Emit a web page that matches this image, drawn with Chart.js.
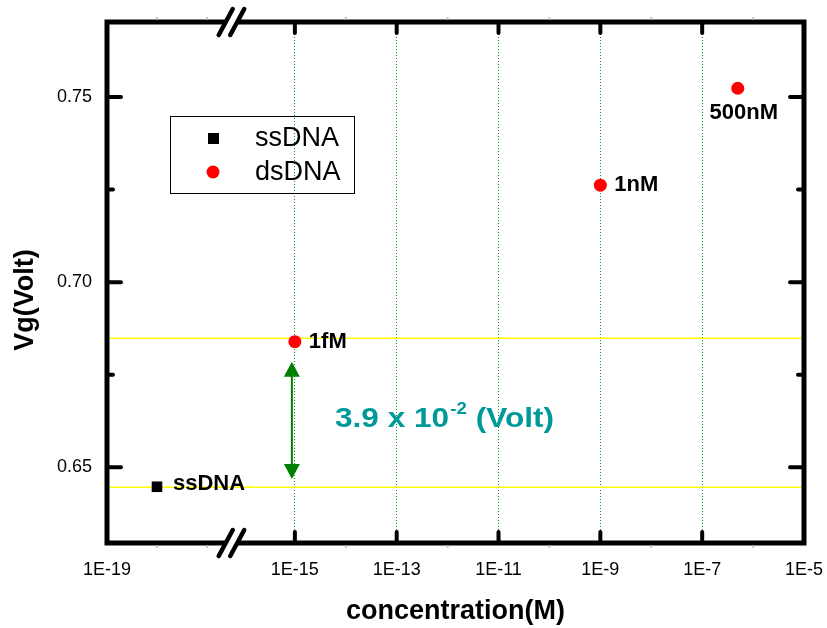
<!DOCTYPE html>
<html>
<head>
<meta charset="utf-8">
<script src="https://cdn.jsdelivr.net/npm/chart.js@4.4.1/dist/chart.umd.min.js"></script>
<style>
  html, body { margin: 0; padding: 0; background: #fff; }
  canvas { display: block; }
</style>
</head>
<body>
<canvas id="vgChart" width="827" height="628"></canvas>
<script>
// values
const ssConc = [1e-18];
const ssVg = [0.6447];
const ssLabels = ['ssDNA'];

const dsConc = [1e-15, 1e-9, 5e-7];
const dsVg = [0.6839, 0.7262, 0.7524];
const dsLabels = ['1fM', '1nM', '500nM'];

const xTickConc = [1e-19, 1e-15, 1e-13, 1e-11, 1e-9, 1e-7, 1e-5];
const xMinorConc = [1e-18, 1e-17, 1e-14, 1e-12, 1e-10, 1e-8, 1e-6];
const yTicks = [0.65, 0.70, 0.75];
const yMinor = [0.675, 0.725];

const baseLevels = [0.6848, 0.6446];   // yellow lines: 1fM dsDNA and ssDNA
const shiftEnds = [0.6785, 0.6468];    // green arrow tips
const shiftText = ['3.9 x 10', '-2', ' (Volt)'];

// broken x axis: the 1E-19 .. 1E-17 piece is squeezed in front of the main piece
const X_MIN = -18.69, X_MAX = -5;
const LEFT_SCALE = 0.982;
const BREAK_EXP = -16.5;
const BREAK_AXIS = -16.25;
function xPos(c) {
  const e = Math.log10(c);
  return e < BREAK_EXP ? X_MIN + (e + 19) * LEFT_SCALE : e;
}
function xLabel(v) {
  const e = v < -15.5 ? Math.round((v - X_MIN) / LEFT_SCALE - 19) : Math.round(v);
  return '1E' + e;
}

const FONT = "'Liberation Sans', Arial, sans-serif";
const labelPlace = {
  '1fM': [14, 0, 'left'],
  '1nM': [14, 0, 'left'],
  '500nM': [6, 25, 'center'],
  'ssDNA': [16, -3, 'left']
};

const decor = {
  id: 'decor',
  beforeDatasetsDraw(chart) {
    const { ctx, chartArea: a, scales: { x, y } } = chart;
    ctx.save();
    ctx.strokeStyle = '#ffff00';
    ctx.lineWidth = 1.5;
    baseLevels.forEach(v => {
      const py = y.getPixelForValue(v);
      ctx.beginPath();
      ctx.moveTo(a.left, py);
      ctx.lineTo(a.right, py);
      ctx.stroke();
    });

    // arrow between the two levels
    const ax = x.getPixelForValue(xPos(1e-15)) - 3;
    const y1 = y.getPixelForValue(shiftEnds[0]);
    const y2 = y.getPixelForValue(shiftEnds[1]);
    ctx.strokeStyle = '#008000';
    ctx.fillStyle = '#008000';
    ctx.lineWidth = 2;
    ctx.beginPath();
    ctx.moveTo(ax, y1 + 10);
    ctx.lineTo(ax, y2 - 10);
    ctx.stroke();
    ctx.beginPath();
    ctx.moveTo(ax, y1); ctx.lineTo(ax - 8, y1 + 15); ctx.lineTo(ax + 8, y1 + 15);
    ctx.closePath(); ctx.fill();
    ctx.beginPath();
    ctx.moveTo(ax, y2); ctx.lineTo(ax - 8, y2 - 15); ctx.lineTo(ax + 8, y2 - 15);
    ctx.closePath(); ctx.fill();

    // shift value text
    ctx.translate(335, 427);
    ctx.scale(1.17, 1);
    ctx.fillStyle = '#009999';
    ctx.textBaseline = 'alphabetic';
    ctx.textAlign = 'left';
    ctx.font = 'bold 27px ' + FONT;
    ctx.fillText(shiftText[0], 0, 0);
    let tx = ctx.measureText(shiftText[0]).width + 1;
    ctx.font = 'bold 16px ' + FONT;
    ctx.fillText(shiftText[1], tx, -13);
    tx += ctx.measureText(shiftText[1]).width;
    ctx.font = 'bold 27px ' + FONT;
    ctx.fillText(shiftText[2], tx, 0);
    ctx.restore();
  },
  afterDraw(chart) {
    const { ctx, chartArea: a, scales: { x, y } } = chart;
    ctx.save();

    // point labels
    ctx.fillStyle = '#000';
    ctx.font = 'bold 22px ' + FONT;
    ctx.textBaseline = 'middle';
    chart.data.datasets.forEach((ds, di) => {
      chart.getDatasetMeta(di).data.forEach((pt, i) => {
        const txt = ds.pointLabels[i];
        const p = labelPlace[txt];
        ctx.textAlign = p[2];
        ctx.fillText(txt, pt.x + p[0], pt.y + p[1]);
      });
    });

    // frame
    ctx.strokeStyle = '#000';
    ctx.lineWidth = 5;
    ctx.lineJoin = 'miter';
    ctx.strokeRect(a.left, a.top, a.right - a.left, a.bottom - a.top);

    // ticks
    ctx.lineCap = 'round';
    ctx.lineWidth = 4;
    xTickConc.slice(1, -1).forEach(c => {
      const px = x.getPixelForValue(xPos(c));
      ctx.beginPath();
      ctx.moveTo(px, a.bottom); ctx.lineTo(px, a.bottom - 11);
      ctx.moveTo(px, a.top); ctx.lineTo(px, a.top + 11);
      ctx.stroke();
    });
    yTicks.forEach(v => {
      const py = y.getPixelForValue(v);
      ctx.beginPath();
      ctx.moveTo(a.left, py); ctx.lineTo(a.left + 14, py);
      ctx.moveTo(a.right, py); ctx.lineTo(a.right - 14, py);
      ctx.stroke();
    });
    yMinor.forEach(v => {
      const py = y.getPixelForValue(v);
      ctx.beginPath();
      ctx.moveTo(a.left, py); ctx.lineTo(a.left + 6, py);
      ctx.moveTo(a.right, py); ctx.lineTo(a.right - 6, py);
      ctx.stroke();
    });
    ctx.lineWidth = 2;
    ctx.lineCap = 'butt';
    ctx.strokeStyle = '#c8c8c8';
    xMinorConc.forEach(c => {
      const px = x.getPixelForValue(xPos(c));
      ctx.beginPath();
      ctx.moveTo(px, a.bottom + 2.5); ctx.lineTo(px, a.bottom + 5);
      ctx.moveTo(px, a.top - 2.5); ctx.lineTo(px, a.top - 5);
      ctx.stroke();
    });

    // axis break marks
    const bx = x.getPixelForValue(BREAK_AXIS);
    [a.top, a.bottom].forEach(by => {
      ctx.fillStyle = '#fff';
      ctx.fillRect(bx - 5, by - 4, 11, 8);
      ctx.strokeStyle = '#000';
      ctx.lineWidth = 4.5;
      ctx.lineCap = 'round';
      [-5.5, 6].forEach(dx => {
        ctx.beginPath();
        ctx.moveTo(bx + dx - 7, by + 13);
        ctx.lineTo(bx + dx + 7, by - 13);
        ctx.stroke();
      });
    });

    // legend
    ctx.lineWidth = 1;
    ctx.strokeStyle = '#000';
    ctx.strokeRect(170.5, 116.5, 184, 77);
    ctx.fillStyle = '#000';
    ctx.fillRect(208, 133, 11, 11);
    ctx.fillStyle = '#ff0000';
    ctx.beginPath();
    ctx.arc(213, 172, 6.5, 0, Math.PI * 2);
    ctx.fill();
    ctx.fillStyle = '#000';
    ctx.font = '27px ' + FONT;
    ctx.textAlign = 'left';
    ctx.textBaseline = 'middle';
    chart.data.datasets.forEach((ds, i) => ctx.fillText(ds.label, 255, 139 + i * 34));

    // axis titles
    ctx.font = 'bold 27px ' + FONT;
    ctx.textAlign = 'center';
    ctx.textBaseline = 'alphabetic';
    ctx.fillText('concentration(M)', (a.left + a.right) / 2, 619);
    ctx.translate(33, 300);
    ctx.rotate(-Math.PI / 2);
    ctx.fillText('Vg(Volt)', 0, 0);
    ctx.restore();
  }
};

const chart = new Chart(document.getElementById('vgChart'), {
  type: 'scatter',
  data: {
    datasets: [
      {
        label: 'ssDNA',
        data: ssConc.map((c, i) => ({ x: xPos(c), y: ssVg[i] })),
        pointLabels: ssLabels,
        pointStyle: 'rect',
        pointRadius: 7.5,
        backgroundColor: '#000',
        borderColor: '#000',
        borderWidth: 0
      },
      {
        label: 'dsDNA',
        data: dsConc.map((c, i) => ({ x: xPos(c), y: dsVg[i] })),
        pointLabels: dsLabels,
        pointStyle: 'circle',
        pointRadius: 6.5,
        backgroundColor: '#ff0000',
        borderColor: '#ff0000',
        borderWidth: 0
      }
    ]
  },
  options: {
    responsive: false,
    animation: false,
    layout: { padding: { top: 22, right: 23, left: 0, bottom: 0 } },
    plugins: { legend: { display: false }, tooltip: { enabled: false } },
    scales: {
      x: {
        type: 'linear',
        min: X_MIN,
        max: X_MAX,
        afterBuildTicks: s => { s.ticks = xTickConc.map(c => ({ value: xPos(c) })); },
        afterFit: s => { s.height = 85; s.paddingLeft = 0; s.paddingRight = 0; },
        ticks: {
          callback: v => xLabel(v),
          autoSkip: false,
          maxRotation: 0,
          color: '#000',
          padding: 16,
          font: { family: FONT, size: 18 }
        },
        grid: {
          drawTicks: false,
          lineWidth: 1,
          color: c => (c.index === 0 || c.index === xTickConc.length - 1) ? 'rgba(0,0,0,0)' : '#109a10'
        },
        border: { display: false, dash: [1, 2] }
      },
      y: {
        min: 0.6295,
        max: 0.7703,
        afterBuildTicks: s => { s.ticks = yTicks.map(v => ({ value: v })); },
        afterFit: s => { s.width = 107; s.paddingTop = 0; s.paddingBottom = 0; },
        ticks: {
          callback: v => v.toFixed(2),
          color: '#000',
          padding: 15,
          font: { family: FONT, size: 18 }
        },
        grid: { display: false, drawTicks: false },
        border: { display: false }
      }
    }
  },
  plugins: [decor]
});
</script>
</body>
</html>
